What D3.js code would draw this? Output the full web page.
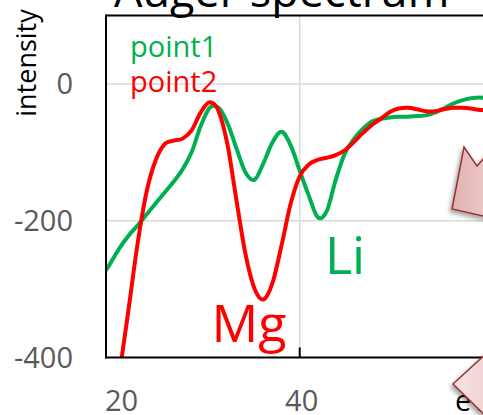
<!DOCTYPE html>
<html>
<head>
<meta charset="utf-8">
<script src="https://cdn.jsdelivr.net/npm/d3@7"></script>
<style>
  body { margin: 0; background: #fff; }
  svg { display: block; font-family: "Open Sans", "Noto Sans", sans-serif; }
</style>
</head>
<body>
<svg id="chart" width="483" height="415"></svg>
<script>
// energy (eV) and intensities
const energy = [18, 19, 20, 21, 22, 23, 24, 25, 26, 27, 28, 29, 30, 31, 32, 33, 34, 35, 36, 37, 38, 39, 40,
  41, 42, 43, 44, 45, 46, 47, 48, 49, 50, 51, 52, 53, 54, 55, 56, 57, 58, 59, 60, 61, 62, 63, 64]
const point1 = [-282, -262, -240, -222, -207, -191, -175, -159, -143, -125, -100, -62, -35, -35, -58, -95, -130, -140, -115, -85, -70, -90, -127,
  -163, -195, -186, -140, -102, -81, -66, -55, -51, -49, -48, -48, -47, -46, -42, -36, -29, -24, -21, -20, -21, -23, -25, -26]
const point2 = [-600, -520, -423, -330, -234, -158, -112, -88, -83, -80, -68, -42, -27, -40, -90, -172, -250, -300, -315, -290, -235, -175, -135,
  -118, -111, -108, -104, -97, -85, -72, -60, -51, -41, -36, -35, -37, -40, -40, -37, -35, -35, -36, -38, -38, -38, -39, -40]
const seriesNames = ['point1', 'point2']
const seriesColors = ['#00b050', '#ff0000']
const xTicks = [20, 40]
const yTicks = [0, -200, -400]
const xGrid = [40]
const yGrid = [0, -200]

const svg = d3.select('#chart')
const plotLeft = 106, plotTop = 15.5, plotBottom = 357.5, plotRight = 570

const xScale = d3.scaleLinear().domain([18.5, 70]).range([plotLeft, plotRight])
const yScale = d3.scaleLinear().domain([-400, 100]).range([plotBottom, plotTop])

const defs = svg.append('defs')
defs.append('clipPath').attr('id', 'plot')
  .append('rect').attr('x', plotLeft).attr('y', plotTop)
  .attr('width', plotRight - plotLeft).attr('height', plotBottom - plotTop)
const shadow = defs.append('filter').attr('id', 'shadow').attr('x', '-20%').attr('y', '-20%').attr('width', '140%').attr('height', '140%')
shadow.append('feDropShadow').attr('dx', -2).attr('dy', 3).attr('stdDeviation', 2)
  .attr('flood-color', '#000').attr('flood-opacity', 0.35)
const grad = defs.append('linearGradient').attr('id', 'pink').attr('x1', 0).attr('y1', 0).attr('x2', 1).attr('y2', 0)
grad.append('stop').attr('offset', '0%').attr('stop-color', '#e3b2b2')
grad.append('stop').attr('offset', '100%').attr('stop-color', '#f0d2d2')
const grad2 = defs.append('linearGradient').attr('id', 'pink2').attr('x1', 0).attr('y1', 0).attr('x2', 1).attr('y2', 0)
grad2.append('stop').attr('offset', '0%').attr('stop-color', '#f6e2e2')
grad2.append('stop').attr('offset', '100%').attr('stop-color', '#efcfcf')

// title (mostly outside the crop)
svg.append('text').attr('x', 114).attr('y', 7).attr('font-size', 45).attr('fill', '#000')
  .text('Auger spectrum')

// gridlines
svg.append('g').selectAll('line').data(yGrid).enter().append('line')
  .attr('x1', plotLeft).attr('x2', plotRight)
  .attr('y1', d => yScale(d)).attr('y2', d => yScale(d))
  .attr('stroke', '#d9d9d9').attr('stroke-width', 1.5)
svg.append('g').selectAll('line').data(xGrid).enter().append('line')
  .attr('x1', d => xScale(d)).attr('x2', d => xScale(d))
  .attr('y1', plotTop).attr('y2', plotBottom)
  .attr('stroke', '#d9d9d9').attr('stroke-width', 1.5)

// lines
const line = d3.line()
  .x((d, i) => xScale(energy[i]))
  .y(d => yScale(d))
  .curve(d3.curveCardinal.tension(0))

const plot = svg.append('g').attr('clip-path', 'url(#plot)')
;[point1, point2].forEach((values, k) => {
  plot.append('path').datum(values)
    .attr('d', line)
    .attr('fill', 'none')
    .attr('stroke', seriesColors[k])
    .attr('stroke-width', 4)
    .attr('stroke-linejoin', 'round')
})

// frame
svg.append('line').attr('x1', plotLeft).attr('x2', plotRight).attr('y1', plotTop).attr('y2', plotTop)
  .attr('stroke', '#000').attr('stroke-width', 2)
svg.append('line').attr('x1', plotLeft).attr('x2', plotLeft).attr('y1', plotTop - 1).attr('y2', plotBottom + 1)
  .attr('stroke', '#000').attr('stroke-width', 2)
svg.append('line').attr('x1', plotLeft - 1).attr('x2', plotRight).attr('y1', plotBottom).attr('y2', plotBottom)
  .attr('stroke', '#000').attr('stroke-width', 2)
svg.append('g').selectAll('line').data(xGrid).enter().append('line')
  .attr('x1', d => xScale(d)).attr('x2', d => xScale(d))
  .attr('y1', plotBottom - 10).attr('y2', plotBottom)
  .attr('stroke', '#000').attr('stroke-width', 2)

// tick labels
svg.append('g').selectAll('text').data(yTicks).enter().append('text')
  .attr('x', 73).attr('y', d => yScale(d)).attr('dy', '0.36em')
  .attr('text-anchor', 'end').attr('font-size', 29).attr('fill', '#595959')
  .text(d => d)
svg.append('g').selectAll('text').data(xTicks).enter().append('text')
  .attr('x', d => xScale(d) + 2).attr('y', 411)
  .attr('text-anchor', 'middle').attr('font-size', 29).attr('fill', '#595959')
  .text(d => d)

// axis titles
svg.append('text').attr('transform', 'translate(36,63) rotate(-90)')
  .attr('text-anchor', 'middle').attr('font-size', 27).attr('fill', '#000')
  .text('intensity')
svg.append('text').attr('x', 455).attr('y', 411).attr('font-size', 29).attr('fill', '#000')
  .text('eV')

// legend
svg.append('g').selectAll('text').data(seriesNames).enter().append('text')
  .attr('x', 130).attr('y', (d, i) => 57 + i * 35)
  .attr('font-size', 29).attr('fill', (d, i) => seriesColors[i])
  .text(d => d)

// peak labels
svg.append('text').attr('x', xScale(30.2)).attr('y', yScale(-377))
  .attr('font-size', 52).attr('fill', seriesColors[1]).text('Mg')
svg.append('text').attr('x', xScale(42.8)).attr('y', yScale(-278))
  .attr('font-size', 52).attr('fill', seriesColors[0]).text('Li')

// callout arrows at the right edge
svg.append('path')
  .attr('d', 'M464,147 L477,166 L500,140 L510,222 L452,209 Z')
  .attr('fill', 'url(#pink)').attr('stroke', '#943634').attr('stroke-width', 1.5)
  .attr('filter', 'url(#shadow)')
svg.append('path')
  .attr('d', 'M453,384 L500,341 L500,430 Z')
  .attr('fill', 'url(#pink2)').attr('stroke', '#943634').attr('stroke-width', 1.5)
  .attr('filter', 'url(#shadow)')
</script>
</body>
</html>
